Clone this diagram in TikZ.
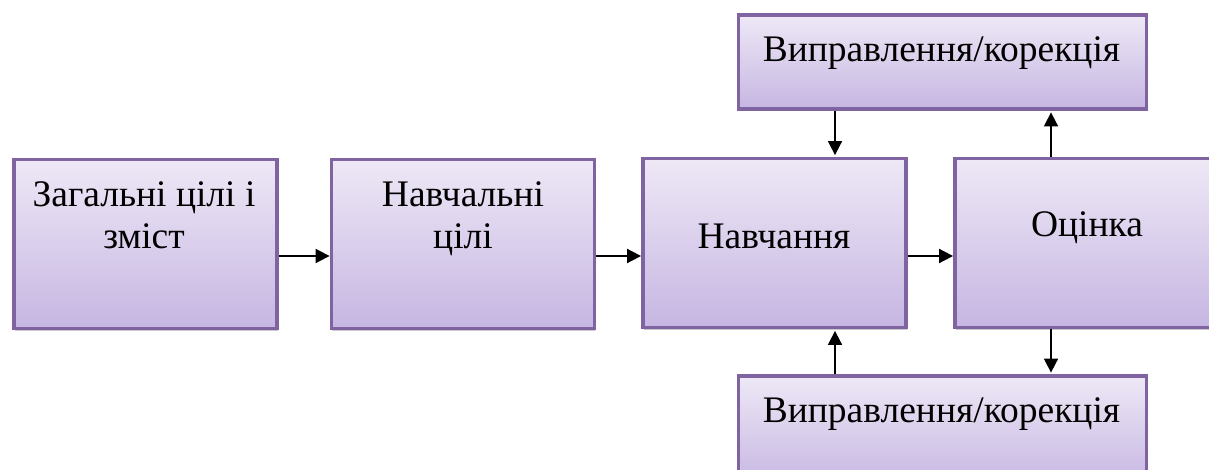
\documentclass[tikz,border=0pt]{standalone}
\usepackage{fontspec}
\setmainfont{Liberation Serif}
\usetikzlibrary{arrows.meta,shadows}
\definecolor{boxborder}{RGB}{128,100,162}
\definecolor{boxtop}{RGB}{238,232,246}
\definecolor{boxbot}{RGB}{198,182,226}
\tikzset{
  box/.style={draw=boxborder, line width=3.8pt, top color=boxtop, bottom color=boxbot,
    rectangle, inner sep=0pt,
    drop shadow={shadow xshift=0.5pt, shadow yshift=-2.5pt, opacity=0.35, fill=black!60}},
  lbl/.style={anchor=base, align=center, inner sep=0pt, font=\fontsize{37.5}{42}\selectfont},
  arr/.style={line width=1.7pt, -{Triangle[length=14pt,width=14pt]}}
}
\begin{document}
\begin{tikzpicture}[x=1pt,y=1pt]
\useasboundingbox (0,0) rectangle (1209,469);
\begin{scope}
\clip (0,0) rectangle (1209,469);
\node[box, minimum width=263pt, minimum height=169pt] (b1) at (145.5,225) {};
\node[box, minimum width=263pt, minimum height=169pt] (b2) at (463,225) {};
\node[box, minimum width=263pt, minimum height=169pt] (b3) at (774.5,226) {};
\node[box, minimum width=263pt, minimum height=169pt] (b4) at (1086.5,226) {};
\node[box, minimum width=408pt, minimum height=94pt] (top) at (942.5,407) {};
\node[box, minimum width=408pt, minimum height=110pt] (bot) at (942.5,38) {};

\node[lbl] (t1) at (144,220) {Загальні цілі і\\зміст};
\node[lbl] (t2) at (463,220) {Навчальні\\цілі};
\node[lbl] (t3) at (774,221) {Навчання};
\node[lbl] (t4) at (1087,233) {Оцінка};
\node[lbl] (t5) at (941.5,407) {Виправлення/корекція};
\node[lbl] (t6) at (941.5,47) {Виправлення/корекція};

\draw[arr] (b1.east |- 0,213) -- (b2.west |- 0,213);
\draw[arr] (b2.east |- 0,213) -- (b3.west |- 0,213);
\draw[arr] (b3.east |- 0,213) -- (b4.west |- 0,213);
\draw[arr] (top.south -| 835,0) -- ([yshift=1.5pt]b3.north -| 835,0);
\draw[arr] (b4.north -| 1051,0) -- ([yshift=-1.5pt]top.south -| 1051,0);
\draw[arr] (bot.north -| 835,0) -- ([yshift=-1.5pt]b3.south -| 835,0);
\draw[arr] (b4.south -| 1051,0) -- ([yshift=1.5pt]bot.north -| 1051,0);
\end{scope}
\end{tikzpicture}
\end{document}
